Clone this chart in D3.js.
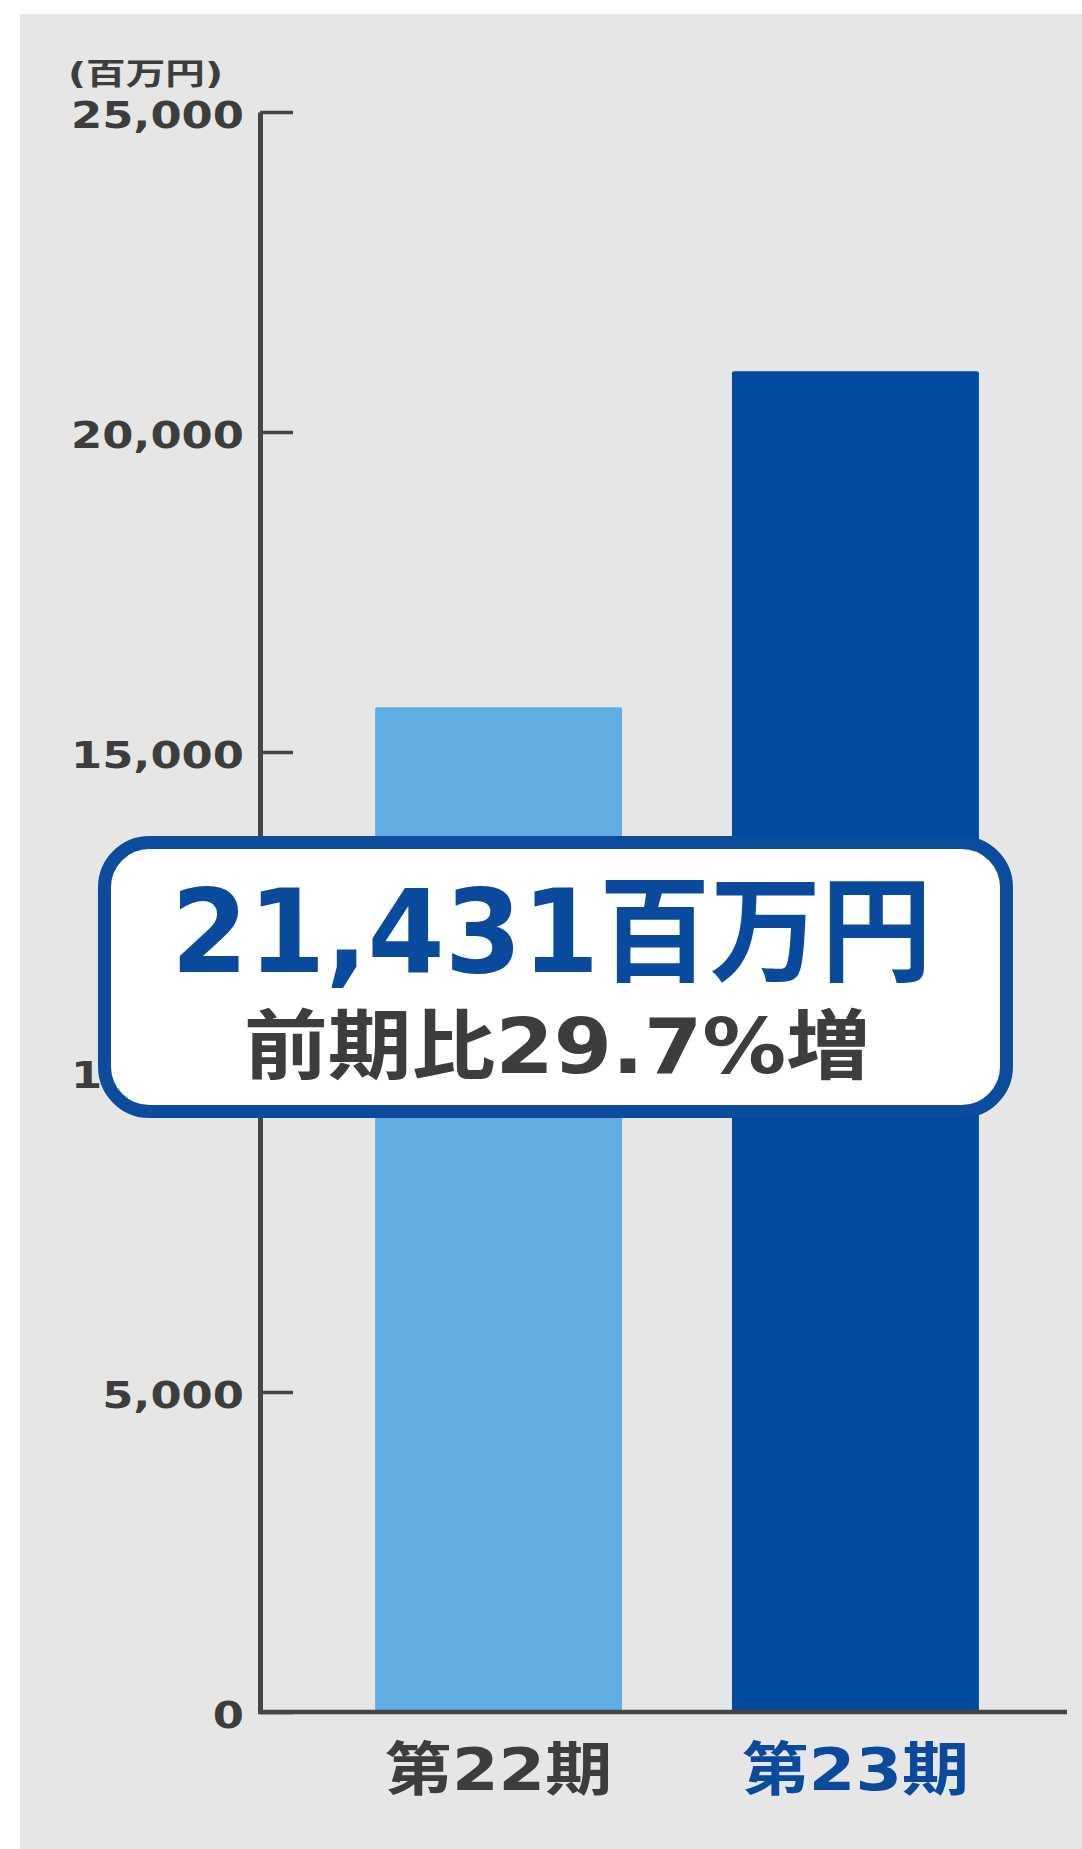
<!DOCTYPE html>
<html><head><meta charset="utf-8">
<script src="https://cdn.jsdelivr.net/npm/d3@7"></script>
<style>html,body{margin:0;padding:0;background:#fff;}</style>
</head><body>
<svg id="chart" width="1082" height="1849"></svg>
<script>
const categories = ["第22期", "第23期"];
const values = [15700, 20950];
const yTicks = [0, 5000, 10000, 15000, 20000, 25000];
const barColors = ["#62aee3", "#004a9f"];
const labelColors = ["#3d3d3d", "#0a4a9c"];
const unitLabel = "(百万円)";
const calloutValue = "21,431百万円";
const calloutNote = "前期比29.7%増";

const FONT = "'DejaVu Sans','Noto Sans CJK JP',sans-serif";
const svg = d3.select("#chart");

svg.append("rect").attr("x", 0).attr("y", 0).attr("width", 1082).attr("height", 1849).attr("fill", "#ffffff");
svg.append("rect").attr("x", 20).attr("y", 14).attr("width", 1062).attr("height", 1835).attr("fill", "#e6e6e6");

const y = d3.scaleLinear().domain([0, 25000]).range([1712, 112]);
const x = d3.scaleBand().domain(categories).range([318, 1036]).paddingInner(0.308).paddingOuter(0.16);

// bars
svg.append("g").selectAll("rect").data(categories).join("rect")
  .attr("x", d => x(d))
  .attr("y", (d, i) => y(values[i]))
  .attr("width", x.bandwidth())
  .attr("height", (d, i) => y(0) - y(values[i]))
  .attr("rx", 2)
  .attr("fill", (d, i) => barColors[i]);

// y axis
const yAxis = svg.append("g").attr("transform", "translate(260,0)")
  .call(d3.axisLeft(y).tickValues(yTicks).tickFormat(d3.format(",")).tickSize(-33).tickSizeOuter(0).tickPadding(16));
yAxis.select(".domain").attr("stroke", "#454545").attr("stroke-width", 5);
yAxis.selectAll(".tick line").attr("stroke", "#454545").attr("stroke-width", 3.5);
yAxis.selectAll(".tick text")
  .attr("fill", "#3d3d3d").attr("dy", "0.4em")
  .style("font-family", FONT).style("font-weight", "bold").style("font-size", "38px")
  .each(function () {
    const w = this.getComputedTextLength();
    d3.select(this).attr("textLength", w * 1.18).attr("lengthAdjust", "spacingAndGlyphs");
  });

// baseline
svg.append("line").attr("x1", 258).attr("x2", 1067).attr("y1", y(0)).attr("y2", y(0))
  .attr("stroke", "#454545").attr("stroke-width", 4.5);

// x axis labels
const xAxis = svg.append("g").attr("transform", `translate(0,${y(0)})`)
  .call(d3.axisBottom(x).tickSize(0));
xAxis.select(".domain").remove();
xAxis.selectAll(".tick text")
  .attr("dy", null).attr("y", 78)
  .attr("fill", (d, i) => labelColors[i])
  .style("font-family", FONT).style("font-weight", "bold").style("font-size", "58px")
  .attr("textLength", 227).attr("lengthAdjust", "spacingAndGlyphs");

// unit label
svg.append("text").attr("x", 68).attr("y", 84).text(unitLabel)
  .attr("fill", "#3d3d3d").style("font-family", FONT).style("font-weight", "bold").style("font-size", "30px")
  .attr("textLength", 155).attr("lengthAdjust", "spacingAndGlyphs");

// callout
svg.append("rect").attr("x", 104.5).attr("y", 842.5).attr("width", 902).attr("height", 269)
  .attr("rx", 45).attr("ry", 45)
  .attr("fill", "#ffffff").attr("stroke", "#0b4c9c").attr("stroke-width", 13);
svg.append("text").attr("x", 171).attr("y", 972).text(calloutValue)
  .attr("fill", "#0a4a9c").style("font-family", FONT).style("font-weight", "bold").style("font-size", "115px")
  .attr("textLength", 761).attr("lengthAdjust", "spacingAndGlyphs");
svg.append("text").attr("x", 244).attr("y", 1073).text(calloutNote)
  .attr("fill", "#3d3d3d").style("font-family", FONT).style("font-weight", "bold").style("font-size", "76px")
  .attr("textLength", 626).attr("lengthAdjust", "spacingAndGlyphs");
</script>
</body></html>
